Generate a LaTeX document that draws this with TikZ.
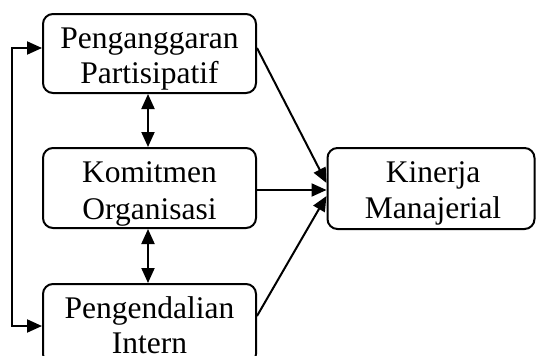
\documentclass[tikz,border=0pt]{standalone}
\usepackage{fontspec}
\setmainfont{Liberation Serif}
\usetikzlibrary{arrows.meta}
\begin{document}
\begin{tikzpicture}[x=1pt,y=1pt,
  box/.style={draw, line width=2pt, rounded corners=10pt, inner sep=0pt},
  lbl/.style={anchor=base, inner sep=0pt, font=\fontsize{31.5}{36}\selectfont},
  arr/.style={line width=2pt, -{Triangle[length=15pt,width=13pt]}},
  darr/.style={line width=2pt, {Triangle[length=15pt,width=13pt]}-{Triangle[length=15pt,width=13pt]}}]
\useasboundingbox (0,0) rectangle (536,-356);
% boxes
\node[box, minimum width=213pt, minimum height=79pt] (b1) at (149.5,-53.5) {};
\node[box, minimum width=213pt, minimum height=80pt] (b2) at (149.5,-188) {};
\node[box, minimum width=213pt, minimum height=80pt] (b3) at (149.5,-324) {};
\node[box, minimum width=207pt, minimum height=81pt] (k) at (431,-188.5) {};
% texts
\node[lbl] (t1a) at (149.5,-48) {Penganggaran};
\node[lbl] (t1b) at (149.5,-83.5) {Partisipatif};
\node[lbl] (t2a) at (149.5,-182) {Komitmen};
\node[lbl] (t2b) at (149.5,-219) {Organisasi};
\node[lbl] (t3a) at (149.5,-318.5) {Pengendalian};
\node[lbl] (t3b) at (149.5,-353.5) {Intern};
\node[lbl] (tka) at (433,-182) {Kinerja};
\node[lbl] (tkb) at (433,-218.5) {Manajerial};
% coordinates
\coordinate (fa) at (12,-48);
\coordinate (fb) at (12,-326);
\coordinate (s1) at (256,-48);
\coordinate (s2) at (256,-190);
\coordinate (s3) at (256,-316);
\coordinate (e1) at (327,-183);
\coordinate (e2) at (327,-190);
\coordinate (e3) at (327,-196);
% connectors
\draw[darr] (b1.west |- fa) -- (fa) -- (fb) -- (b3.west |- fb);
\draw[darr] (b1.south -| 148,0) -- (b2.north -| 148,0);
\draw[darr] (b2.south -| 148,0) -- (b3.north -| 148,0);
\draw[arr] (b1.east |- s1) -- (k.west |- e1);
\draw[arr] (b2.east |- s2) -- (k.west |- e2);
\draw[arr] (b3.east |- s3) -- (k.west |- e3);
\end{tikzpicture}
\end{document}
